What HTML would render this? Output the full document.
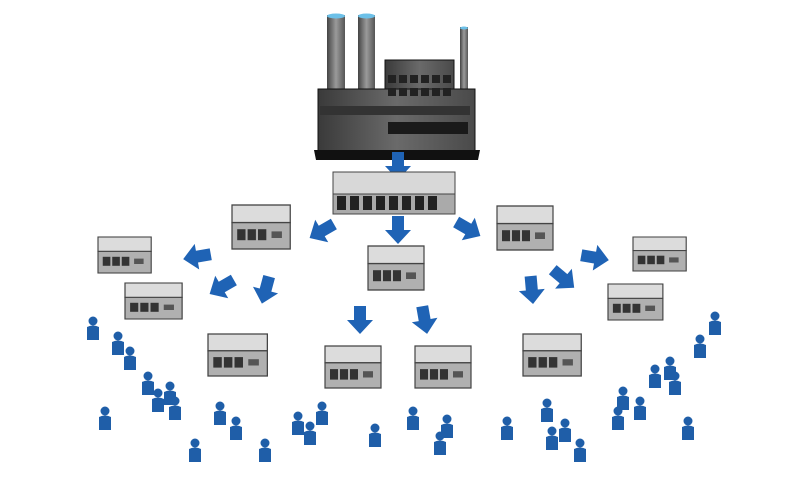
<!DOCTYPE html>
<html><head><style>html,body{margin:0;padding:0;background:#fff}svg{display:block}</style></head>
<body>
<svg width="800" height="480" viewBox="0 0 800 480" xmlns="http://www.w3.org/2000/svg">
<defs>
<linearGradient id="fb" x1="0" x2="1"><stop offset="0" stop-color="#3a3a3a"/><stop offset="0.5" stop-color="#6a6a6a"/><stop offset="1" stop-color="#4a4a4a"/></linearGradient>
<linearGradient id="ch" x1="0" x2="1"><stop offset="0" stop-color="#444"/><stop offset="0.5" stop-color="#9a9a9a"/><stop offset="1" stop-color="#555"/></linearGradient>
<g id="wh">
<rect x="0" y="0" width="56" height="16" fill="#dcdcdc" stroke="#444" stroke-width="1.2"/>
<rect x="0" y="16" width="56" height="24" fill="#b0b0b0" stroke="#444" stroke-width="1.2"/>
<rect x="5" y="22" width="8" height="10" fill="#333"/><rect x="15" y="22" width="8" height="10" fill="#333"/><rect x="25" y="22" width="8" height="10" fill="#333"/>
<rect x="38" y="24" width="10" height="6" fill="#555"/>
</g>
<g id="p" fill="#1f5ea8">
<circle cx="0" cy="-9" r="4.5"/>
<path d="M-6,-3 Q0,-6 6,-3 L6,10 L-6,10 Z"/>
</g>
<g id="ar" fill="#1f63b5"><path d="M-6,-16 L6,-16 L6,-2 L13,-2 L0,12 L-13,-2 L-6,-2 Z"/></g>
</defs>
<!-- factory -->
<rect x="327" y="15" width="18" height="82" fill="url(#ch)"/><ellipse cx="336" cy="16" rx="9" ry="2.5" fill="#6cc0e8"/>
<rect x="358" y="15" width="17" height="82" fill="url(#ch)"/><ellipse cx="366.5" cy="16" rx="8.5" ry="2.5" fill="#6cc0e8"/>
<rect x="460" y="27" width="8" height="85" fill="url(#ch)"/><ellipse cx="464" cy="28" rx="4" ry="1.5" fill="#6cc0e8"/>
<rect x="385" y="60" width="69" height="35" fill="url(#fb)" stroke="#111"/>
<rect x="318" y="89" width="157" height="64" fill="url(#fb)" stroke="#111"/>
<polygon points="314,150 480,150 478,160 316,160" fill="#111"/>
<g fill="#222">
<rect x="388" y="75" width="8" height="8"/><rect x="399" y="75" width="8" height="8"/><rect x="410" y="75" width="8" height="8"/><rect x="421" y="75" width="8" height="8"/><rect x="432" y="75" width="8" height="8"/><rect x="443" y="75" width="8" height="8"/>
<rect x="388" y="88" width="8" height="8"/><rect x="399" y="88" width="8" height="8"/><rect x="410" y="88" width="8" height="8"/><rect x="421" y="88" width="8" height="8"/><rect x="432" y="88" width="8" height="8"/><rect x="443" y="88" width="8" height="8"/>
<rect x="320" y="106" width="150" height="9" fill="#333"/>
<rect x="388" y="122" width="80" height="12" fill="#1a1a1a"/>
</g>
<use href="#ar" transform="translate(398,168)"/>
<!-- distribution center -->
<rect x="333" y="172" width="122" height="22" fill="#d8d8d8" stroke="#444"/>
<rect x="333" y="194" width="122" height="20" fill="#aaa" stroke="#444"/>
<g fill="#222"><rect x="337" y="196" width="9" height="14"/><rect x="350" y="196" width="9" height="14"/><rect x="363" y="196" width="9" height="14"/><rect x="376" y="196" width="9" height="14"/><rect x="389" y="196" width="9" height="14"/><rect x="402" y="196" width="9" height="14"/><rect x="415" y="196" width="9" height="14"/><rect x="428" y="196" width="9" height="14"/></g>
<!-- arrows -->
<use href="#ar" transform="translate(320,232) rotate(60)"/>
<use href="#ar" transform="translate(398,232)"/>
<use href="#ar" transform="translate(470,230) rotate(-60)"/>
<use href="#ar" transform="translate(195,257) rotate(80)"/>
<use href="#ar" transform="translate(220,288) rotate(60)"/>
<use href="#ar" transform="translate(265,292) rotate(15)"/>
<use href="#ar" transform="translate(360,322)"/>
<use href="#ar" transform="translate(425,322) rotate(-10)"/>
<use href="#ar" transform="translate(532,292) rotate(-5)"/>
<use href="#ar" transform="translate(565,280) rotate(-50)"/>
<use href="#ar" transform="translate(597,258) rotate(-80)"/>
<!-- warehouses -->
<use href="#wh" transform="translate(232,205) scale(1.04,1.1)"/>
<use href="#wh" transform="translate(497,206) scale(1,1.1)"/>
<use href="#wh" transform="translate(368,246) scale(1,1.1)"/>
<use href="#wh" transform="translate(98,237) scale(0.95,0.9)"/>
<use href="#wh" transform="translate(125,283) scale(1.02,0.9)"/>
<use href="#wh" transform="translate(633,237) scale(0.95,0.85)"/>
<use href="#wh" transform="translate(608,284) scale(0.98,0.9)"/>
<use href="#wh" transform="translate(208,334) scale(1.06,1.05)"/>
<use href="#wh" transform="translate(325,346) scale(1,1.05)"/>
<use href="#wh" transform="translate(415,346) scale(1,1.05)"/>
<use href="#wh" transform="translate(523,334) scale(1.04,1.05)"/>
<!-- people -->
<use href="#p" transform="translate(93,330)"/><use href="#p" transform="translate(118,345)"/><use href="#p" transform="translate(130,360)"/>
<use href="#p" transform="translate(148,385)"/><use href="#p" transform="translate(158,402)"/><use href="#p" transform="translate(170,395)"/>
<use href="#p" transform="translate(105,420)"/><use href="#p" transform="translate(175,410)"/><use href="#p" transform="translate(220,415)"/>
<use href="#p" transform="translate(236,430)"/><use href="#p" transform="translate(195,452)"/><use href="#p" transform="translate(265,452)"/>
<use href="#p" transform="translate(298,425)"/><use href="#p" transform="translate(310,435)"/><use href="#p" transform="translate(322,415)"/>
<use href="#p" transform="translate(375,437)"/><use href="#p" transform="translate(413,420)"/><use href="#p" transform="translate(440,445)"/>
<use href="#p" transform="translate(447,428)"/><use href="#p" transform="translate(507,430)"/><use href="#p" transform="translate(547,412)"/>
<use href="#p" transform="translate(552,440)"/><use href="#p" transform="translate(565,432)"/><use href="#p" transform="translate(580,452)"/>
<use href="#p" transform="translate(618,420)"/><use href="#p" transform="translate(640,410)"/><use href="#p" transform="translate(623,400)"/>
<use href="#p" transform="translate(655,378)"/><use href="#p" transform="translate(670,370)"/><use href="#p" transform="translate(675,385)"/>
<use href="#p" transform="translate(700,348)"/><use href="#p" transform="translate(715,325)"/><use href="#p" transform="translate(688,430)"/>
</svg>
</body></html>
